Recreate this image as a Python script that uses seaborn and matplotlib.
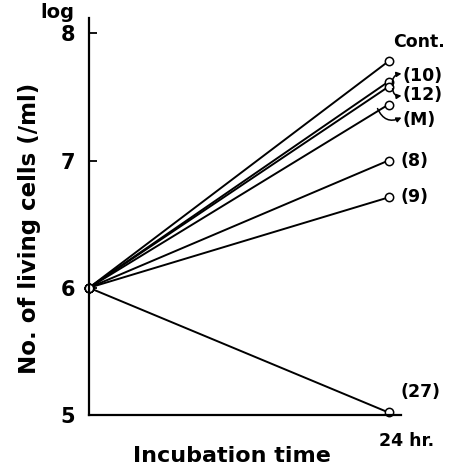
import matplotlib
matplotlib.use("Agg")
import matplotlib.pyplot as plt
from matplotlib.transforms import offset_copy, ScaledTranslation
import seaborn as sns
import pandas as pd

# ---- data ----
series = ["Cont.", "(10)", "(12)", "(M)", "(8)", "(9)", "(27)"]
start_value = 6.0
end_values = [7.78, 7.62, 7.58, 7.44, 7.00, 6.71, 5.02]
times = [0, 24]
x_tick_labels = ["24 hr."]
y_ticks = [5, 6, 7, 8]

rows = []
for s, v in zip(series, end_values):
    rows.append({"series": s, "time": times[0], "value": start_value})
    rows.append({"series": s, "time": times[1], "value": v})
df = pd.DataFrame(rows)

sns.set_style("ticks")
plt.rcParams["font.family"] = ["DejaVu Sans"]
plt.rcParams["font.weight"] = "bold"
for k in ["text.color", "axes.labelcolor", "xtick.color", "ytick.color", "axes.edgecolor"]:
    plt.rcParams[k] = "black"

fig = plt.figure(figsize=(4.5, 4.71), dpi=100)
ax = fig.add_axes([89/450, 1-415/471, (401-89)/450, (415-18)/471])

sns.lineplot(data=df, x="time", y="value", units="series", estimator=None,
             color="black", linewidth=1.4, marker="o", markersize=6,
             markerfacecolor="white", markeredgecolor="black",
             markeredgewidth=1.1, ax=ax, legend=False, clip_on=False)

ax.set_xlim(0, 25)
ax.set_ylim(5, 8.12)
sns.despine(ax=ax)
for sp in ["left", "bottom"]:
    ax.spines[sp].set_linewidth(1.6)

ax.set_yticks(y_ticks)
ax.set_yticklabels([str(t) for t in y_ticks], fontsize=15, fontweight="bold")
ax.tick_params(axis="y", direction="in", length=6, width=1.3, pad=10)
ax.set_xticks([times[1]])
ax.set_xticklabels(x_tick_labels, fontsize=12.5, ha="left", fontweight="bold")
ax.tick_params(axis="x", length=0, pad=12)
for lab in ax.get_xticklabels():
    lab.set_transform(lab.get_transform() + ScaledTranslation(-10/100, 0, fig.dpi_scale_trans))

ax.set_xlabel("Incubation time", fontsize=16, fontweight="bold", labelpad=-3)
ax.xaxis.label.set_x((232 - 89) / 312)
ax.set_ylabel("No. of living cells (/ml)", fontsize=16.5, fontweight="bold", labelpad=14)
ax.yaxis.label.set_y((415 - 228) / 397)
fig.text(57/450, 1-13/471, "log", fontsize=14, fontweight="bold", ha="center", va="center")

# ---- labels at the line ends (offsets in pixels) ----
label_offsets = {"Cont.": (5, 19), "(10)": (14, 6), "(12)": (14, -8), "(M)": (14, -15),
                 "(8)": (12, 0), "(9)": (12, 0), "(27)": (12, 20)}
for s, v in zip(series, end_values):
    dx, dy = label_offsets[s]
    ax.annotate(s, xy=(times[1], v), xytext=(dx, dy), textcoords="offset pixels",
                ha="left", va="center", fontsize=12.5, fontweight="bold",
                annotation_clip=False)

def bracket(v, a, b, rad):
    ax.annotate("", xy=(times[1], v), xycoords=offset_copy(ax.transData, fig=fig, x=b[0], y=b[1], units="dots"),
                xytext=(times[1], v), textcoords=offset_copy(ax.transData, fig=fig, x=a[0], y=a[1], units="dots"),
                arrowprops=dict(arrowstyle="-|>", connectionstyle=f"arc3,rad={rad}", lw=1.1,
                                color="black", shrinkA=0, shrinkB=0, mutation_scale=7),
                annotation_clip=False)

bracket(end_values[1], (4, -4), (13, 8), -0.5)
bracket(end_values[2], (4, -2), (13, -9), 0.5)
bracket(end_values[3], (-11, -4), (13, -13), 0.5)

fig.savefig("out.png", dpi=100)
